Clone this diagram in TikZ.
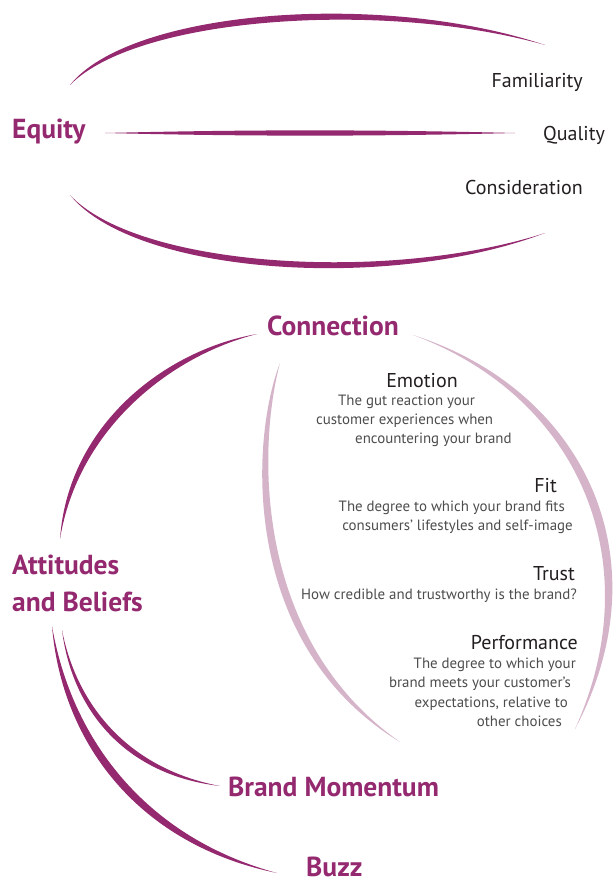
\documentclass[tikz,border=0pt]{standalone}
\usepackage{fontspec}
\setmainfont{PT Sans}
\definecolor{plum}{RGB}{148,41,111}
\definecolor{lplum}{RGB}{213,180,201}
\definecolor{ink}{RGB}{35,31,32}
\definecolor{body}{RGB}{77,77,77}
\begin{document}
\begin{tikzpicture}[x=1pt,y=-1pt,
  head/.style={font=\fontsize{27.5}{30}\selectfont\bfseries, text=plum, inner sep=0pt},
  item/.style={font=\fontsize{20}{23}\selectfont, text=ink, inner sep=0pt},
  desc/.style={font=\fontsize{14.9}{17}\selectfont, text=body, inner sep=0pt}]
\useasboundingbox[fill=white] (0,0) rectangle (615,882);

% ---------- Equity ----------
\node[head, anchor=base west] (equity) at (12,139) {Equity};
\node[item, anchor=base east] (fam) at (583,88) {Familiarity};
\node[item, anchor=base west] (qual) at (543,141) {Quality};
\node[item, anchor=base east] (cons) at (583,195) {Consideration};

\coordinate (t1) at (70,85);  \coordinate (t2) at (545,45);
\coordinate (m1) at (105,133); \coordinate (m2) at (515,133);
\coordinate (b1) at (70,195); \coordinate (b2) at (545,233);
\fill[plum] (t1) .. controls (130,10) and (380,-10) .. (t2)
             .. controls (385,0) and (138,16) .. (t1) -- cycle;
\fill[plum] (m1) .. controls (250,129.5) and (370,129.5) .. (m2)
             .. controls (370,136.5) and (250,136.5) .. (m1) -- cycle;
\fill[plum] (b1) .. controls (135,275) and (390,292) .. (b2)
             .. controls (390,283) and (138,268) .. (b1) -- cycle;

% ---------- Connection ----------
\node[head, anchor=base west] (conn) at (267,335) {Connection};
\node[head, anchor=base west] (att) at (12,574) {Attitudes};
\node[head, anchor=base west] (bel) at (12,611) {and Beliefs};
\node[head, anchor=base west] (mom) at (228,796) {Brand Momentum};
\node[head, anchor=base west] (buzz) at (306,876) {Buzz};

\coordinate (c1) at (257,334); \coordinate (a1) at (60,539);
\coordinate (a2) at (62,630); \coordinate (bm) at (220,786);
\coordinate (a3) at (52,626); \coordinate (bz) at (277,873);
\coordinate (r1) at (413,335); \coordinate (r2) at (575,729);
\coordinate (l1) at (280,363); \coordinate (l2) at (400,742);

\fill[lplum] (r1) .. controls (585,390) and (665,560) .. (r2)
             .. controls (650,563) and (580,397) .. (r1) -- cycle;
\fill[lplum] (l1) .. controls (250,440) and (240,645) .. (l2)
             .. controls (252,638) and (258,445) .. (l1) -- cycle;
\fill[plum] (c1) .. controls (165,350) and (68,425) .. (a1)
             .. controls (78,429) and (170,356) .. (c1) -- cycle;
\fill[plum] (a2) .. controls (72,710) and (125,775) .. (bm)
             .. controls (130,769) and (77,707) .. (a2) -- cycle;
\fill[plum] (a3) .. controls (62,745) and (140,845) .. (bz)
             .. controls (148,838) and (72,742) .. (a3) -- cycle;

% ---------- items ----------
\node[item, anchor=base] (emo) at (422,387) {Emotion};
\node[desc, anchor=base west] (emo1) at (338,405) {The gut reaction your};
\node[desc, anchor=base west] (emo2) at (316,424) {customer experiences when};
\node[desc, anchor=base west] (emo3) at (355,443) {encountering your brand};

\node[item, anchor=base east] (fit) at (557,492) {Fit};
\node[desc, anchor=base east] (fit1) at (565,511) {The degree to which your brand fits};
\node[desc, anchor=base east] (fit2) at (573,530) {consumers’ lifestyles and self-image};

\node[item, anchor=base east] (trust) at (575,580) {Trust};
\node[desc, anchor=base east] (trust1) at (577,599) {How credible and trustworthy is the brand?};

\node[item, anchor=base east] (perf) at (578,649) {Performance};
\node[desc, anchor=base east] (perf1) at (576,668) {The degree to which your};
\node[desc, anchor=base east] (perf2) at (571,687) {brand meets your customer’s};
\node[desc, anchor=base east] (perf3) at (568,707) {expectations, relative to};
\node[desc, anchor=base east] (perf4) at (562,726) {other choices};
\end{tikzpicture}
\end{document}
